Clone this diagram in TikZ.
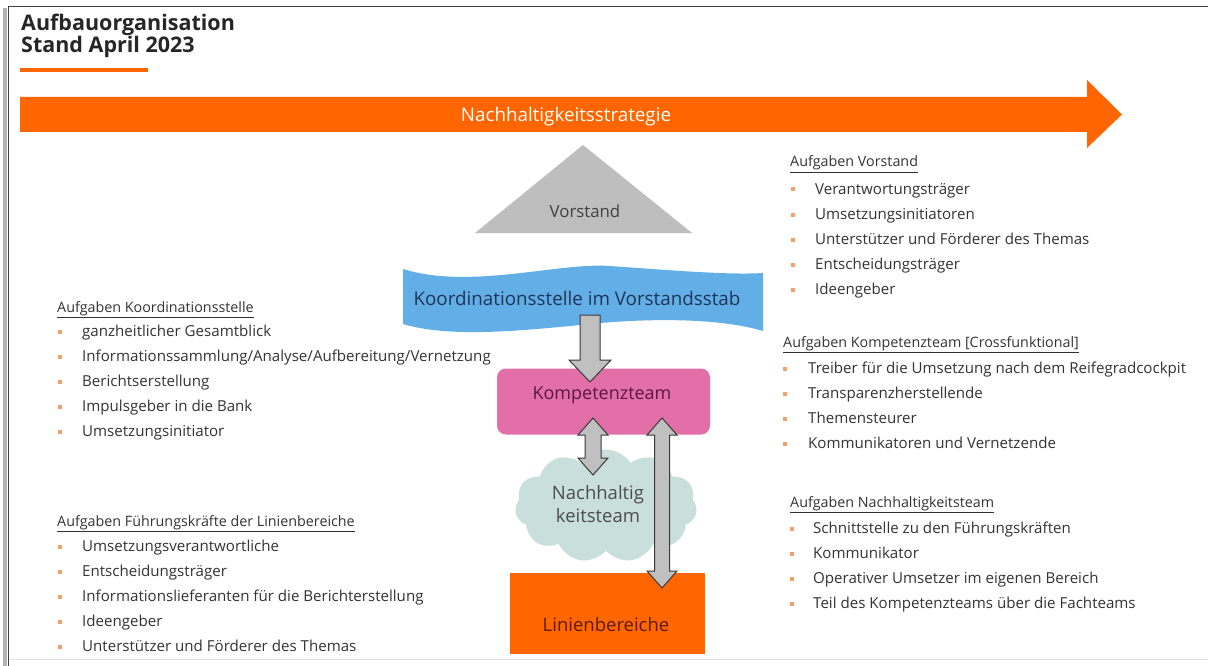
\documentclass[tikz,border=0pt]{standalone}
\usepackage{fontspec}
\setmainfont{Open Sans}
\usetikzlibrary{shapes.symbols,calc}
\definecolor{sorange}{HTML}{FF6600}
\definecolor{bulcol}{HTML}{F5A06A}
\definecolor{txtcol}{HTML}{333333}
\definecolor{vgray}{HTML}{BEBEBE}
\definecolor{kblue}{HTML}{62AEE6}
\definecolor{ktext}{HTML}{1F3557}
\definecolor{kpink}{HTML}{E36FA8}
\definecolor{kpinktext}{HTML}{5A1742}
\definecolor{cloudcol}{HTML}{C9DFDC}
\definecolor{linientext}{HTML}{5C1A00}
\definecolor{arrgray}{HTML}{C0C0C0}
\definecolor{arrline}{HTML}{3A3A3A}
\tikzset{
  head/.style={anchor=base west,inner sep=0pt,font=\fontsize{14.3}{16}\selectfont,text=txtcol},
  item/.style={anchor=base west,inner sep=0pt,font=\fontsize{15.1}{17}\selectfont,text=txtcol},
  bul/.style={fill=bulcol},
  garrow/.style={fill=arrgray,draw=arrline,line width=1pt,line join=miter},
  center text/.style={inner sep=0pt,font=\fontsize{18}{21}\selectfont}
}
% #1 name, #2 heading x, #3 heading baseline y, #4 bullet x, #5 text x, #6 first item baseline y, #7 heading, #8 items
\newcommand\tasklist[8]{%
  \node[head] (#1) at (#2,#3) {\underline{#7}};
  \foreach \t [count=\i] in {#8} {
    \node[item] (#1-\i) at (#5,#6+\i*25.2-25.2) {\t};
    \fill[bul] (#4-2,#6+\i*25.2-25.2-6.5) rectangle (#4+2,#6+\i*25.2-25.2-2.5);
  }
}
% vertical down block arrow from (#1) to tip (#2)
\newcommand\downblock[2]{%
  \draw[garrow] let \p1=(#1), \p2=(#2) in
    (\x1-10pt,\y1) -- (\x1+10pt,\y1) -- (\x1+10pt,\y2+22pt) -- (\x1+21pt,\y2+22pt)
    -- (\x2,\y2) -- (\x1-21pt,\y2+22pt) -- (\x1-10pt,\y2+22pt) -- cycle;
}
% vertical double block arrow, top tip #1, bottom tip #2, shaft half #3, head half #4, head length #5
\newcommand\dblblock[5]{%
  \draw[garrow] let \p1=(#1), \p2=(#2) in
    (\x1,\y1) -- (\x1+#4,\y1-#5) -- (\x1+#3,\y1-#5) -- (\x1+#3,\y2+#5) -- (\x1+#4,\y2+#5)
    -- (\x2,\y2) -- (\x1-#4,\y2+#5) -- (\x1-#3,\y2+#5) -- (\x1-#3,\y1-#5) -- (\x1-#4,\y1-#5) -- cycle;
}
\begin{document}
\begin{tikzpicture}[x=1pt,y=-1pt]
\useasboundingbox (0,0) rectangle (1208,666);
\fill[white] (0,0) rectangle (1208,666);
% frame
\draw[line width=4pt,gray!60] (4.5,8) -- (4.5,666);
\draw[line width=1.6pt,black!75] (8.5,666) -- (8.5,6.5) -- (1208,6.5);
\draw[line width=0.6pt,black!12] (10,659) -- (1208,659);

% title
\node[anchor=base west,inner sep=0pt,font=\bfseries\fontsize{21.5}{24}\selectfont,text=black!85] (title1) at (21,31) {Aufbauorganisation};
\node[anchor=base west,inner sep=0pt,font=\bfseries\fontsize{21.5}{24}\selectfont,text=black!85] (title2) at (21,53) {Stand April 2023};
\fill[sorange] (20,68) rectangle (148,72.5);

% strategy arrow
\fill[sorange] (20,97) -- (1087,97) -- (1087,80) -- (1122,114.5) -- (1087,148) -- (1087,132) -- (20,132) -- cycle;
\node[center text,text=white,font=\fontsize{18.8}{21}\selectfont] (strat) at (566,117) {Nachhaltigkeitsstrategie};

% Vorstand
\fill[vgray] (583,145) -- (692,233) -- (475,233) -- cycle;
\node[center text,text=black!75,font=\fontsize{16.8}{19}\selectfont] (vorstand) at (585,211) {Vorstand};

% Koordinationsstelle banner
\fill[kblue] (403,269) .. controls (470,290) and (560,262) .. (610,266)
  .. controls (680,271) and (730,275) .. (763,273)
  -- (763,331) .. controls (720,318) and (650,318) .. (590,324)
  .. controls (520,331) and (450,338) .. (403,324) -- cycle;
\node[center text,text=ktext,font=\fontsize{18.8}{22}\selectfont] (koord) at (577,298) {Koordinationsstelle im Vorstandsstab};

% Kompetenzteam
\node[fill=kpink,rounded corners=9pt,minimum width=213pt,minimum height=66pt,inner sep=0pt] (kompbox) at (603.5,401.5) {};
\node[center text,text=kpinktext] (komp) at (602,395) {Kompetenzteam};

% Nachhaltigkeitsteam cloud
\node[cloud,cloud puffs=11,cloud puff arc=115,aspect=1.6,fill=cloudcol,minimum width=182pt,minimum height=113pt,inner sep=0pt] (cloudbox) at (606,506) {};
\node[center text,text=black!70,align=center,font=\fontsize{18.5}{23}\selectfont] (nachh) at (598,504) {Nachhaltig\\keitsteam};

% Linienbereiche
\node[fill=sorange,minimum width=195pt,minimum height=81pt,inner sep=0pt] (linienbox) at (607.5,613.5) {};
\node[center text,text=linientext,font=\fontsize{18.5}{21}\selectfont] (linien) at (606,625) {Linienbereiche};

% arrows
\coordinate (dA) at (590,315);
\coordinate (dB) at (590,382);
\downblock{dA}{dB}
\coordinate (eA) at (593,418);
\coordinate (eB) at (593,475);
\dblblock{eA}{eB}{8pt}{15pt}{17pt}
\coordinate (fA) at (662,418);
\coordinate (fB) at (662,588);
\dblblock{fA}{fB}{7.5pt}{15pt}{17pt}

% task lists
\tasklist{tk}{57}{312}{60}{82}{336}{Aufgaben Koordinationsstelle}{ganzheitlicher Gesamtblick,Informationssammlung/Analyse/Aufbereitung/Vernetzung,Berichtserstellung,Impulsgeber in die Bank,Umsetzungsinitiator}
\tasklist{tf}{57}{526}{60}{82}{551}{Aufgaben Führungskräfte der Linienbereiche}{Umsetzungsverantwortliche,Entscheidungsträger,Informationslieferanten für die Berichterstellung,Ideengeber,Unterstützer und Förderer des Themas}
\tasklist{tv}{790}{167}{793}{815}{194}{Aufgaben Vorstand}{Verantwortungsträger,Umsetzungsinitiatoren,Unterstützer und Förderer des Themas,Entscheidungsträger,Ideengeber}
\tasklist{tkt}{783}{347}{785}{808}{373}{Aufgaben Kompetenzteam [Crossfunktional]}{Treiber für die Umsetzung nach dem Reifegradcockpit,Transparenzherstellende,Themensteurer,Kommunikatoren und Vernetzende}
\tasklist{tn}{790}{507}{792}{813}{533}{Aufgaben Nachhaltigkeitsteam}{Schnittstelle zu den Führungskräften,Kommunikator,Operativer Umsetzer im eigenen Bereich,Teil des Kompetenzteams über die Fachteams}
\end{tikzpicture}
\end{document}
